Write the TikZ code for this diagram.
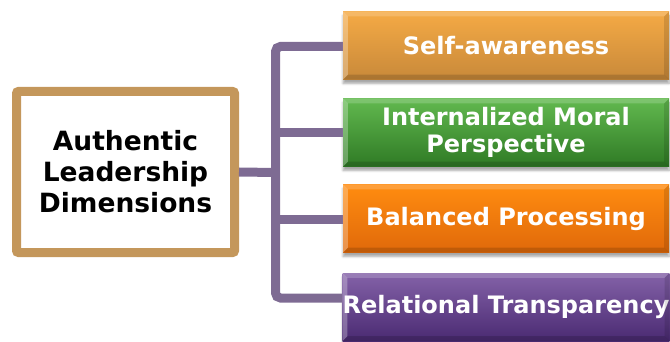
\documentclass[tikz,border=0pt]{standalone}
\usepackage{fontspec}
\setmainfont{DejaVu Sans}
\usetikzlibrary{shadows.blur}
\definecolor{tanb}{HTML}{C4975B}
\definecolor{conn}{HTML}{7E6B93}
\definecolor{sa1}{HTML}{F5AA45}\definecolor{sa2}{HTML}{C8893A}
\definecolor{gr1}{HTML}{62B94F}\definecolor{gr2}{HTML}{2F7A25}
\definecolor{or1}{HTML}{FF8C10}\definecolor{or2}{HTML}{E0690A}
\definecolor{pu1}{HTML}{8462A8}\definecolor{pu2}{HTML}{4A2A72}
\tikzset{
  connline/.style={draw=conn, line width=9pt, rounded corners=5pt},
  dimbox/.style={rectangle, minimum width=326pt, minimum height=68pt, inner sep=0pt,
    text=white, font=\fontsize{24}{27}\selectfont\bfseries, align=center,
    blur shadow={shadow xshift=0pt, shadow yshift=-4pt, shadow blur steps=6, shadow opacity=35}},
  mainbox/.style={rectangle, draw=tanb, line width=9pt, rounded corners=2pt, fill=white,
    minimum width=218pt, minimum height=161pt, inner sep=0pt,
    font=\fontsize{26.5}{31}\selectfont\bfseries, align=center}
}
\begin{document}
\begin{tikzpicture}[x=1pt,y=-1pt]
\useasboundingbox (0,0) rectangle (670,342);
\node[mainbox] (main) at (125.5,172) {Authentic\\Leadership\\Dimensions};
\coordinate (j0) at (275.5,172.5);
\coordinate (j1) at (275.5,46.5);
\coordinate (j2) at (275.5,133);
\coordinate (j3) at (275.5,219.5);
\coordinate (j4) at (275.5,298);
\node[dimbox, top color=sa1, bottom color=sa2] (b1) at (506,45.5) {Self-awareness};
\node[dimbox, top color=gr1, bottom color=gr2] (b2) at (506,132.5) {Internalized Moral\\Perspective};
\node[dimbox, top color=or1, bottom color=or2] (b3) at (506,218.5) {Balanced Processing};
\node[dimbox, top color=pu1, bottom color=pu2] (b4) at (506,307) {Relational Transparency};
\draw[connline] (b1.west |- j1) -- (j1) -- (j4) -- (b4.west |- j4);
\draw[draw=conn, line width=9pt] (main.east) -- (j0);
\draw[draw=conn, line width=9pt] (j2) -- (b2.west |- j2);
\draw[draw=conn, line width=9pt] (j3) -- (b3.west |- j3);
\foreach \b in {b1,b2,b3,b4}{
  \fill[white, opacity=0.28] (\b.north west) -- (\b.south west) -- ([xshift=5pt,yshift=5pt]\b.south west) -- ([xshift=5pt,yshift=-5pt]\b.north west) -- cycle;
  \fill[white, opacity=0.18] (\b.north west) -- (\b.north east) -- ([xshift=-5pt,yshift=-5pt]\b.north east) -- ([xshift=5pt,yshift=-5pt]\b.north west) -- cycle;
  \fill[black, opacity=0.12] (\b.north east) -- (\b.south east) -- ([xshift=-5pt,yshift=5pt]\b.south east) -- ([xshift=-5pt,yshift=-5pt]\b.north east) -- cycle;
  \fill[black, opacity=0.15] (\b.south west) -- (\b.south east) -- ([xshift=-5pt,yshift=5pt]\b.south east) -- ([xshift=5pt,yshift=5pt]\b.south west) -- cycle;
}
\end{tikzpicture}
\end{document}
